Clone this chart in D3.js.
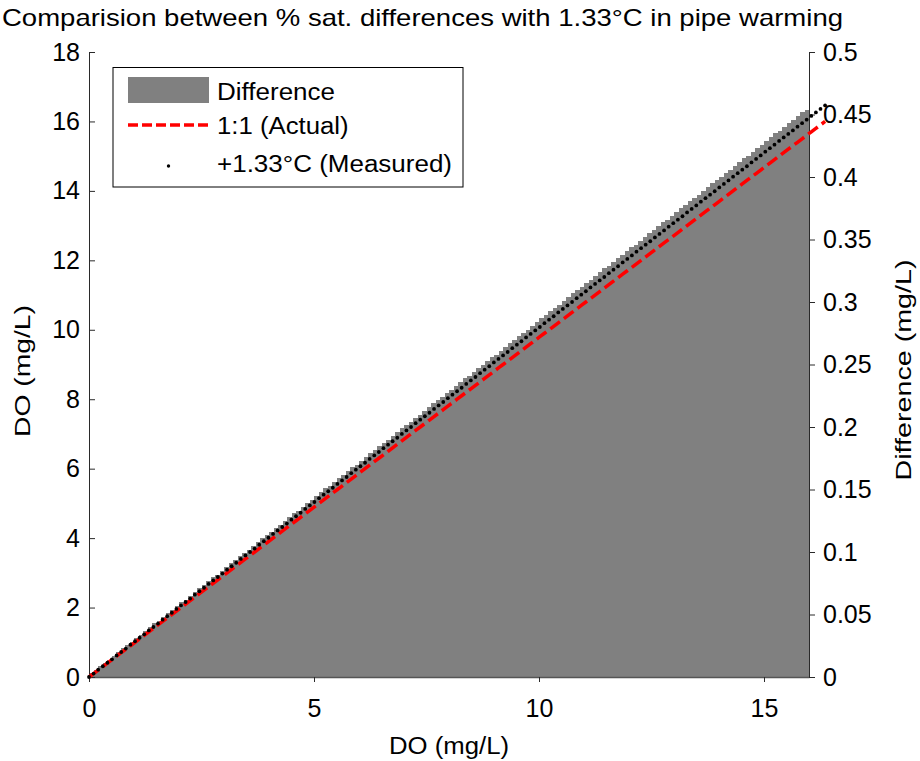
<!DOCTYPE html>
<html>
<head>
<meta charset="utf-8">
<script src="https://cdn.jsdelivr.net/npm/d3@7"></script>
<style>
  body { margin: 0; background: #fff; }
  svg { display: block; }
  text { font-family: "Liberation Sans", Arial, Helvetica, sans-serif; fill: #000; }
</style>
</head>
<body>
<svg id="chart" width="920" height="761"></svg>
<script>
// DO grid (mg/L) shared by the bars and both line series
const doGrid = [
  0,0.1,0.2,0.3,0.4,0.5,0.6,0.7,0.8,0.9,
  1,1.1,1.2,1.3,1.4,1.5,1.6,1.7,1.8,1.9,
  2,2.1,2.2,2.3,2.4,2.5,2.6,2.7,2.8,2.9,
  3,3.1,3.2,3.3,3.4,3.5,3.6,3.7,3.8,3.9,
  4,4.1,4.2,4.3,4.4,4.5,4.6,4.7,4.8,4.9,
  5,5.1,5.2,5.3,5.4,5.5,5.6,5.7,5.8,5.9,
  6,6.1,6.2,6.3,6.4,6.5,6.6,6.7,6.8,6.9,
  7,7.1,7.2,7.3,7.4,7.5,7.6,7.7,7.8,7.9,
  8,8.1,8.2,8.3,8.4,8.5,8.6,8.7,8.8,8.9,
  9,9.1,9.2,9.3,9.4,9.5,9.6,9.7,9.8,9.9,
  10,10.1,10.2,10.3,10.4,10.5,10.6,10.7,10.8,10.9,
  11,11.1,11.2,11.3,11.4,11.5,11.6,11.7,11.8,11.9,
  12,12.1,12.2,12.3,12.4,12.5,12.6,12.7,12.8,12.9,
  13,13.1,13.2,13.3,13.4,13.5,13.6,13.7,13.8,13.9,
  14,14.1,14.2,14.3,14.4,14.5,14.6,14.7,14.8,14.9,
  15,15.1,15.2,15.3,15.4,15.5,15.6,15.7,15.8,15.9,
  16
];

// DO measured with +1.33 °C pipe warming (mg/L)
const measuredDO = [
  0,0.10,0.21,0.31,0.41,0.51,0.62,0.72,0.82,0.93,
  1.03,1.13,1.23,1.34,1.44,1.54,1.65,1.75,1.85,1.96,
  2.06,2.16,2.26,2.37,2.47,2.57,2.68,2.78,2.88,2.98,
  3.09,3.19,3.29,3.40,3.50,3.60,3.70,3.81,3.91,4.01,
  4.12,4.22,4.32,4.42,4.53,4.63,4.73,4.84,4.94,5.04,
  5.15,5.25,5.35,5.45,5.56,5.66,5.76,5.87,5.97,6.07,
  6.17,6.28,6.38,6.48,6.59,6.69,6.79,6.89,7.00,7.10,
  7.20,7.31,7.41,7.51,7.61,7.72,7.82,7.92,8.03,8.13,
  8.23,8.33,8.44,8.54,8.64,8.75,8.85,8.95,9.06,9.16,
  9.26,9.36,9.47,9.57,9.67,9.78,9.88,9.98,10.08,10.19,
  10.29,10.39,10.50,10.60,10.70,10.80,10.91,11.01,11.11,11.22,
  11.32,11.42,11.52,11.63,11.73,11.83,11.94,12.04,12.14,12.25,
  12.35,12.45,12.55,12.66,12.76,12.86,12.97,13.07,13.17,13.27,
  13.38,13.48,13.58,13.69,13.79,13.89,13.99,14.10,14.20,14.30,
  14.41,14.51,14.61,14.71,14.82,14.92,15.02,15.13,15.23,15.33,
  15.44,15.54,15.64,15.74,15.85,15.95,16.05,16.16,16.26,16.36,
  16.46
];

// Difference (mg/L), one bar per grid step
const differenceDO = [
  0,
  0.003,0.006,0.009,0.011,0.014,0.017,0.020,0.023,0.026,0.028,
  0.031,0.034,0.037,0.040,0.043,0.045,0.048,0.051,0.054,0.057,
  0.060,0.062,0.065,0.068,0.071,0.074,0.077,0.080,0.082,0.085,
  0.088,0.091,0.094,0.097,0.099,0.102,0.105,0.108,0.111,0.114,
  0.116,0.119,0.122,0.125,0.128,0.131,0.133,0.136,0.139,0.142,
  0.145,0.148,0.151,0.153,0.156,0.159,0.162,0.165,0.168,0.170,
  0.173,0.176,0.179,0.182,0.185,0.187,0.190,0.193,0.196,0.199,
  0.202,0.204,0.207,0.210,0.213,0.216,0.219,0.222,0.224,0.227,
  0.230,0.233,0.236,0.239,0.241,0.244,0.247,0.250,0.253,0.256,
  0.258,0.261,0.264,0.267,0.270,0.273,0.275,0.278,0.281,0.284,
  0.287,0.290,0.293,0.295,0.298,0.301,0.304,0.307,0.310,0.312,
  0.315,0.318,0.321,0.324,0.327,0.329,0.332,0.335,0.338,0.341,
  0.344,0.346,0.349,0.352,0.355,0.358,0.361,0.364,0.366,0.369,
  0.372,0.375,0.378,0.381,0.383,0.386,0.389,0.392,0.395,0.398,
  0.400,0.403,0.406,0.409,0.412,0.415,0.417,0.420,0.423,0.426,
  0.429,0.432,0.435,0.437,0.440,0.443,0.446,0.449,0.452,0.454
];

const xTicks = [0, 5, 10, 15];
const leftTicks = [0, 2, 4, 6, 8, 10, 12, 14, 16, 18];
const rightTicks = [0, 0.05, 0.1, 0.15, 0.2, 0.25, 0.3, 0.35, 0.4, 0.45, 0.5];
const rightTickLabels = ["0", "0.05", "0.1", "0.15", "0.2", "0.25", "0.3", "0.35", "0.4", "0.45", "0.5"];
const legendLabels = ["Difference", "1:1 (Actual)", "+1.33\u00B0C (Measured)"];

const svg = d3.select("#chart");
const plot = { left: 89, right: 809, top: 52, bottom: 677 };

// bar axes (left DO, right Difference) and the overlaid line axes
const x = d3.scaleLinear().domain([0, 16]).range([plot.left, plot.right]);
const xLine = d3.scaleLinear().domain([0, 15.65]).range([plot.left, plot.right]);
const yL = d3.scaleLinear().domain([0, 18]).range([plot.bottom, plot.top]);
const yR = d3.scaleLinear().domain([0, 0.5]).range([plot.bottom, plot.top]);

const grey = "#808080";

// Difference bars
const bars = d3.range(1, doGrid.length).map(i => ({ x0: doGrid[i - 1], x1: doGrid[i], v: differenceDO[i] }));
svg.append("g").attr("shape-rendering", "crispEdges")
  .selectAll("rect").data(bars).join("rect")
  .attr("x", d => x(d.x0))
  .attr("width", d => x(d.x1) - x(d.x0) + 0.6)
  .attr("y", d => yR(d.v))
  .attr("height", d => yR(0) - yR(d.v))
  .attr("fill", grey);

// axes
const axisStyle = g => {
  g.selectAll("text").style("font-size", "25px").attr("fill", "#000");
  g.selectAll("path, line").attr("stroke", "#2a2a2a");
};

svg.append("g").attr("transform", `translate(0,${plot.bottom})`)
  .call(d3.axisBottom(x).tickValues(xTicks).tickFormat(d3.format("d")).tickSize(5).tickSizeOuter(0).tickPadding(17))
  .call(axisStyle)
  .call(g => g.select(".domain").attr("stroke", "#555").attr("stroke-width", 1.5));

svg.append("g").attr("transform", `translate(${plot.left},0)`)
  .call(d3.axisLeft(yL).tickValues(leftTicks).tickFormat(d3.format("d")).tickSize(-6).tickSizeOuter(0).tickPadding(9))
  .call(axisStyle);

svg.append("g").attr("transform", `translate(${plot.right},0)`)
  .call(d3.axisRight(yR).tickValues(rightTicks).tickFormat((d, i) => rightTickLabels[i]).tickSize(6).tickSizeOuter(0).tickPadding(8))
  .call(axisStyle);

// 1:1 (Actual) line
svg.append("path")
  .datum(doGrid)
  .attr("d", d3.line().x(d => xLine(d)).y(d => yL(d)))
  .attr("fill", "none")
  .attr("stroke", "#ff0000")
  .attr("stroke-width", 3.5)
  .attr("stroke-dasharray", "12,5");

// +1.33 °C (Measured) points
svg.append("g").selectAll("circle")
  .data(doGrid.map((d, i) => ({ a: d, m: measuredDO[i] })))
  .join("circle")
  .attr("cx", d => xLine(d.a))
  .attr("cy", d => yL(d.m))
  .attr("r", 1.9)
  .attr("fill", "#000");

// titles
svg.append("text")
  .attr("x", 2).attr("y", 26)
  .attr("textLength", 841).attr("lengthAdjust", "spacingAndGlyphs")
  .style("font-size", "24px")
  .text("Comparision between % sat. differences with 1.33\u00B0C in pipe warming");

svg.append("text")
  .attr("x", 449).attr("y", 754).attr("text-anchor", "middle")
  .attr("textLength", 120).attr("lengthAdjust", "spacingAndGlyphs")
  .style("font-size", "23px")
  .text("DO (mg/L)");

svg.append("text")
  .attr("transform", "translate(30,371) rotate(-90)")
  .attr("text-anchor", "middle")
  .attr("textLength", 132).attr("lengthAdjust", "spacingAndGlyphs")
  .style("font-size", "22px")
  .text("DO (mg/L)");

svg.append("text")
  .attr("transform", "translate(911,370) rotate(-90)")
  .attr("text-anchor", "middle")
  .attr("textLength", 221).attr("lengthAdjust", "spacingAndGlyphs")
  .style("font-size", "22px")
  .text("Difference (mg/L)");

// legend
const lg = svg.append("g");
lg.append("rect").attr("x", 113).attr("y", 67.5).attr("width", 350).attr("height", 119.5)
  .attr("fill", "#fff").attr("stroke", "#000").attr("stroke-width", 1);
lg.append("rect").attr("x", 128).attr("y", 77).attr("width", 81).attr("height", 26).attr("fill", grey);
lg.append("line").attr("x1", 128).attr("x2", 209).attr("y1", 125).attr("y2", 125)
  .attr("stroke", "#ff0000").attr("stroke-width", 3.5).attr("stroke-dasharray", "10,4");
lg.append("circle").attr("cx", 168.5).attr("cy", 166).attr("r", 1.7).attr("fill", "#000");
const legendBaselines = [99.5, 133.5, 172];
const legendWidths = [118, 131.6, 235];
lg.selectAll("text.item").data(legendLabels).join("text")
  .attr("class", "item")
  .attr("x", 217)
  .attr("y", (d, i) => legendBaselines[i])
  .attr("textLength", (d, i) => legendWidths[i]).attr("lengthAdjust", "spacingAndGlyphs")
  .style("font-size", "23px")
  .text(d => d);
</script>
</body>
</html>
